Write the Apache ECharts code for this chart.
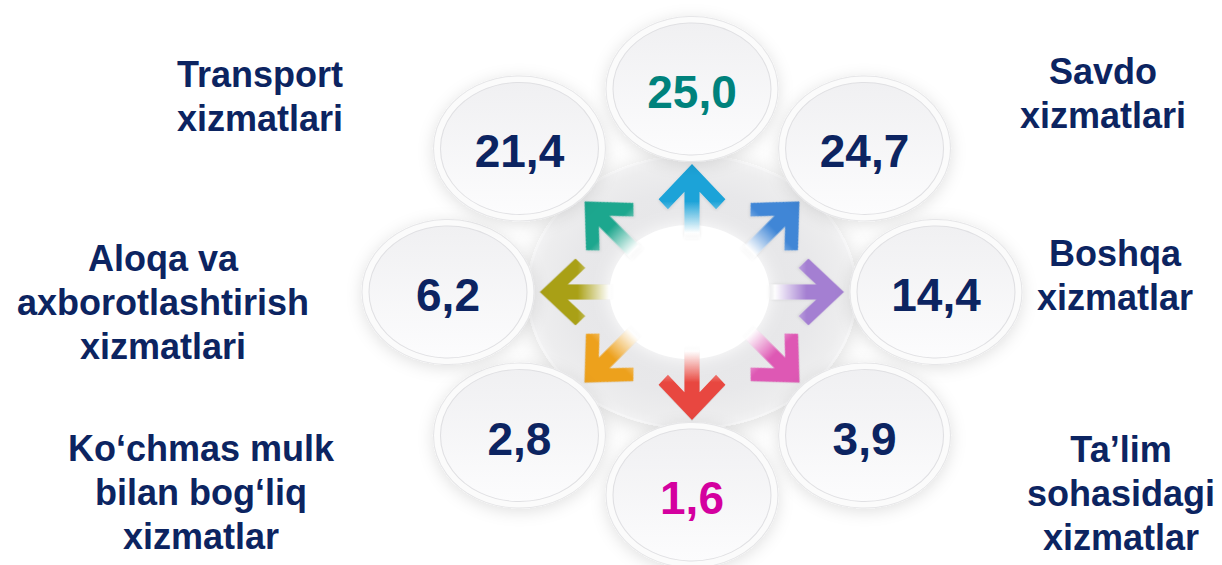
<!DOCTYPE html>
<html>
<head>
<meta charset="utf-8">
<script src="https://cdn.jsdelivr.net/npm/echarts@6/dist/echarts.min.js"></script>
<style>
html,body{margin:0;padding:0;background:#ffffff;}
#chart{width:1222px;height:565px;}
</style>
</head>
<body>
<div id="chart"></div>
<script>
// ---- data (clockwise from top) ----
const categories = ['', 'Savdo\nxizmatlari', 'Boshqa\nxizmatlar', 'Ta\u2019lim\nsohasidagi\nxizmatlar', '', 'Ko\u2018chmas mulk\nbilan bog\u2018liq\nxizmatlar', 'Aloqa va\naxborotlashtirish\nxizmatlari', 'Transport\nxizmatlari'];
const values = [25.0, 24.7, 14.4, 3.9, 1.6, 2.8, 6.2, 21.4];
const valueColors = ['#00827c', '#0c2461', '#0c2461', '#0c2461', '#d4009f', '#0c2461', '#0c2461', '#0c2461'];
const arrowColors = ['#1ea3d8', '#3f86d6', '#a47fd2', '#de58b4', '#e8473f', '#eda11e', '#a9a014', '#1fa78e'];

// ---- layout (not data) ----
const labelPos = [null, [1103, 93], [1115, 275], [1121, 493], null, [201, 492], [163, 302], [260, 96]];
const FONT = '"Liberation Sans", Arial, Helvetica, sans-serif';
const NAVY = '#0c2461';

const angleOf = i => (90 - 45 * i) * Math.PI / 180;
const circleData = values.map((v, i) => ({
  value: [Math.cos(angleOf(i)), Math.sin(angleOf(i)), v],
  label: { color: valueColors[i] }
}));
const rimData = values.map((v, i) => [Math.cos(angleOf(i)), Math.sin(angleOf(i)), v]);
const ARX = 0.469, ARY = 0.446;
const arrowData = arrowColors.map((c, i) => ({
  value: [ARX * Math.cos(angleOf(i)), ARY * Math.sin(angleOf(i))],
  symbolRotate: -45 * i,
  itemStyle: {
    color: new echarts.graphic.LinearGradient(0, 0, 0, 1, [
      { offset: 0, color: c },
      { offset: 0.5, color: c },
      { offset: 0.92, color: 'rgba(255,255,255,0.95)' },
      { offset: 1, color: 'rgba(255,255,255,0)' }
    ])
  }
}));
const arrowPath = 'path://M0,0 L35.4,35.4 L25.5,45.3 L8,27.8 L8,75 L-8,75 L-8,27.8 L-25.5,45.3 L-35.4,35.4 Z';

const graphics = [];
categories.forEach((name, i) => {
  if (!name || !labelPos[i]) return;
  graphics.push({
    type: 'text',
    x: labelPos[i][0],
    y: labelPos[i][1],
    silent: true,
    style: {
      text: name,
      align: 'center',
      verticalAlign: 'middle',
      fontFamily: FONT,
      fontWeight: 'bold',
      fontSize: 36,
      lineHeight: 44,
      fill: NAVY
    }
  });
});

const chart = echarts.init(document.getElementById('chart'), null, { renderer: 'svg' });
chart.setOption({
  backgroundColor: '#ffffff',
  animation: false,
  grid: { left: 448, top: 89, width: 488, height: 406 },
  xAxis: { type: 'value', min: -1, max: 1, show: false },
  yAxis: { type: 'value', min: -1, max: 1, show: false },
  graphic: graphics,
  series: [
    { // central plate
      type: 'scatter', silent: true, z: 1,
      data: [[0, 0]],
      symbol: 'circle', symbolSize: [328, 272],
      itemStyle: {
        opacity: 1,
        color: new echarts.graphic.RadialGradient(0.5, 0.5, 0.5, [
          { offset: 0, color: '#e4e4e6' },
          { offset: 0.75, color: '#e8e8ea' },
          { offset: 0.93, color: '#ededee' },
          { offset: 1, color: '#f2f2f3' }
        ]),
        borderColor: '#f6f6f7', borderWidth: 2,
        shadowBlur: 22, shadowColor: 'rgba(0,0,0,0.14)', shadowOffsetY: 4
      }
    },
    { // white hole
      type: 'scatter', silent: true, z: 2,
      data: [[-0.01, 0]],
      symbol: 'circle', symbolSize: [160, 134],
      itemStyle: { opacity: 1, color: '#ffffff', shadowBlur: 18, shadowColor: '#ffffff' }
    },
    { // arrows
      type: 'scatter', silent: true, z: 3,
      data: arrowData,
      symbol: arrowPath, symbolSize: [70.8, 75], symbolKeepAspect: true,
      itemStyle: { opacity: 1, shadowBlur: 3, shadowColor: 'rgba(0,0,0,0.12)', shadowOffsetY: 1 }
    },
    { // outer rims
      type: 'scatter', silent: true, z: 4,
      data: rimData,
      symbol: 'circle', symbolSize: [172, 145],
      itemStyle: {
        opacity: 1,
        color: '#fbfbfb', borderColor: '#e6e6e8', borderWidth: 1,
        shadowBlur: 16, shadowColor: 'rgba(0,0,0,0.12)', shadowOffsetY: 3
      }
    },
    { // inner discs with values
      type: 'scatter', silent: true, z: 5,
      data: circleData,
      symbol: 'circle', symbolSize: [158, 132],
      itemStyle: {
        opacity: 1,
        color: new echarts.graphic.LinearGradient(0, 0, 0, 1, [
          { offset: 0, color: '#f0f0f2' },
          { offset: 1, color: '#fcfcfd' }
        ]),
        borderColor: '#e0e0e3', borderWidth: 1
      },
      label: {
        show: true, position: 'inside', offset: [0, 3],
        fontFamily: FONT, fontWeight: 'bold', fontSize: 46,
        formatter: p => p.value[2].toFixed(1).replace('.', ',')
      }
    }
  ]
});
</script>
</body>
</html>
